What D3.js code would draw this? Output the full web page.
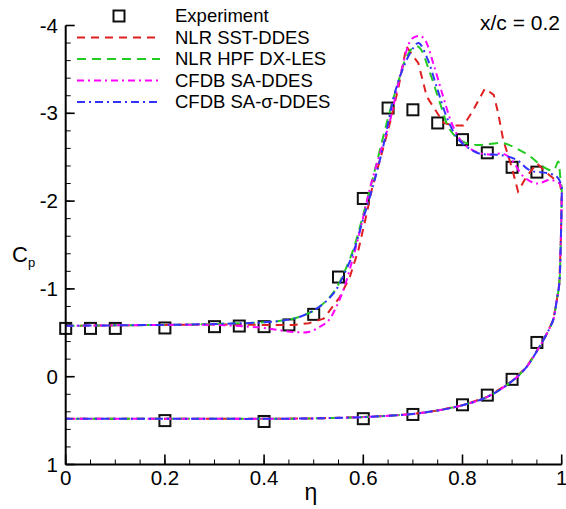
<!DOCTYPE html>
<html><head><meta charset="utf-8">
<script src="https://cdn.jsdelivr.net/npm/d3@7"></script>
<style>body{margin:0;background:#fff}svg{display:block;font-family:"Liberation Sans",Arial,Helvetica,sans-serif}</style>
</head><body>
<script>
// Experiment
const expUpperEta = [0, 0.05, 0.1, 0.2, 0.3, 0.35, 0.4, 0.45, 0.5, 0.55, 0.6, 0.65, 0.7, 0.75, 0.8, 0.85, 0.9, 0.95];
const expUpperCp  = [-0.55, -0.55, -0.55, -0.555, -0.57, -0.577, -0.57, -0.59, -0.71, -1.135, -2.03, -3.06, -3.04, -2.89, -2.70, -2.55, -2.385, -2.33];
const expLowerEta = [0.2, 0.4, 0.6, 0.7, 0.8, 0.85, 0.9, 0.95];
const expLowerCp  = [0.50, 0.51, 0.478, 0.43, 0.32, 0.21, 0.03, -0.39];

// NLR SST-DDES (upper surface)
const sstEta = [0, 0.1, 0.2, 0.3, 0.4, 0.46, 0.49, 0.52, 0.553, 0.573, 0.59, 0.607, 0.617, 0.64, 0.657, 0.671, 0.687, 0.711, 0.728, 0.745, 0.762, 0.782, 0.802, 0.822, 0.845, 0.863, 0.872, 0.882, 0.899, 0.912, 0.929, 0.95, 0.97, 0.996, 1.0];
const sstCp  = [-0.58, -0.585, -0.59, -0.595, -0.59, -0.59, -0.61, -0.66, -0.91, -1.14, -1.44, -1.86, -2.13, -2.6, -2.96, -3.30, -3.76, -3.57, -3.19, -3.04, -2.89, -2.86, -2.86, -3.04, -3.28, -3.21, -3.0, -2.70, -2.39, -2.11, -2.28, -2.43, -2.32, -2.20, -2.1];
// NLR HPF DX-LES (upper surface)
const hpfEta = [0, 0.1, 0.2, 0.3, 0.4, 0.45, 0.48, 0.51, 0.54, 0.56, 0.58, 0.6, 0.62, 0.65, 0.67, 0.687, 0.703, 0.713, 0.735, 0.755, 0.775, 0.8, 0.829, 0.855, 0.882, 0.909, 0.936, 0.963, 0.983, 0.993, 0.997, 1.0];
const hpfCp  = [-0.58, -0.585, -0.59, -0.6, -0.62, -0.65, -0.7, -0.79, -0.96, -1.17, -1.45, -1.85, -2.28, -2.95, -3.35, -3.64, -3.76, -3.75, -3.45, -3.11, -2.81, -2.68, -2.64, -2.65, -2.66, -2.60, -2.51, -2.39, -2.35, -2.45, -2.28, -2.15];
// CFDB SA-DDES (upper surface)
const saEta = [0, 0.1, 0.2, 0.3, 0.39, 0.43, 0.46, 0.49, 0.513, 0.53, 0.546, 0.56, 0.58, 0.597, 0.614, 0.634, 0.654, 0.677, 0.698, 0.714, 0.724, 0.741, 0.761, 0.781, 0.801, 0.828, 0.855, 0.882, 0.899, 0.923, 0.95, 0.976, 0.996, 1.0];
const saCp  = [-0.58, -0.585, -0.59, -0.59, -0.56, -0.53, -0.51, -0.51, -0.57, -0.64, -0.80, -0.99, -1.37, -1.75, -2.16, -2.55, -2.92, -3.49, -3.85, -3.88, -3.84, -3.57, -3.19, -2.85, -2.66, -2.56, -2.53, -2.54, -2.47, -2.28, -2.20, -2.24, -2.20, -2.1];
// CFDB SA-sigma-DDES (upper surface)
const sigEta = [0, 0.1, 0.2, 0.3, 0.4, 0.45, 0.48, 0.51, 0.54, 0.56, 0.58, 0.6, 0.62, 0.64, 0.667, 0.694, 0.711, 0.728, 0.748, 0.768, 0.788, 0.808, 0.835, 0.86, 0.882, 0.909, 0.936, 0.97, 0.99, 1.0];
const sigCp  = [-0.58, -0.585, -0.59, -0.6, -0.62, -0.65, -0.7, -0.79, -0.95, -1.15, -1.42, -1.8, -2.18, -2.62, -3.30, -3.68, -3.80, -3.64, -3.30, -2.96, -2.73, -2.62, -2.54, -2.53, -2.52, -2.47, -2.35, -2.32, -2.28, -2.16];
// Lower surface (common to all CFD results)
const lowerEta = [1.0, 0.998, 0.995, 0.99, 0.983, 0.97, 0.953, 0.929, 0.9, 0.85, 0.8, 0.75, 0.7, 0.65, 0.6, 0.5, 0.4, 0.3, 0.2, 0.1, 0];
const lowerCp  = [-2.05, -1.5, -1.05, -0.87, -0.65, -0.49, -0.32, -0.11, 0.05, 0.23, 0.325, 0.385, 0.425, 0.445, 0.46, 0.475, 0.48, 0.48, 0.48, 0.48, 0.48];

const seriesNames = ["NLR SST-DDES", "NLR HPF DX-LES", "CFDB SA-DDES", "CFDB SA-\u03c3-DDES"];
const xTicks = [0, 0.2, 0.4, 0.6, 0.8, 1];
const yTicks = [-4, -3, -2, -1, 0, 1];

const W = 566, H = 509;
const svg = d3.select("body").append("svg").attr("width", W).attr("height", H);
const x = d3.scaleLinear().domain([0, 1]).range([65.7, 561.7]);
const y = d3.scaleLinear().domain([-4, 1]).range([25.5, 464.5]);

const styles = [
  {color: "#e02020", dash: "8,6", curve: d3.curveLinear},
  {color: "#22cc22", dash: "9,6", curve: d3.curveCatmullRom.alpha(0.5)},
  {color: "#ff00ff", dash: "7,4,2,4", curve: d3.curveCatmullRom.alpha(0.5)},
  {color: "#3333ff", dash: "8,4,2,4", curve: d3.curveCatmullRom.alpha(0.5)}
];
const uppers = [[sstEta, sstCp], [hpfEta, hpfCp], [saEta, saCp], [sigEta, sigCp]];

// Experiment squares
const expPts = expUpperEta.map((e, i) => [e, expUpperCp[i]]).concat(expLowerEta.map((e, i) => [e, expLowerCp[i]]));
svg.append("g").selectAll("rect").data(expPts).enter().append("rect")
  .attr("x", d => x(d[0]) - 5.5).attr("y", d => y(d[1]) - 5.5)
  .attr("width", 11).attr("height", 11)
  .attr("fill", "none").attr("stroke", "#111").attr("stroke-width", 2);

// CFD curves
uppers.forEach((u, k) => {
  const pts = u[0].map((e, i) => [e, u[1][i]]).concat(lowerEta.map((e, i) => [e, lowerCp[i]]));
  const line = d3.line().x(d => x(d[0])).y(d => y(d[1])).curve(styles[k].curve);
  svg.append("path").attr("d", line(pts)).attr("fill", "none")
    .attr("stroke", styles[k].color).attr("stroke-width", 2)
    .attr("stroke-dasharray", styles[k].dash);
});

// Axes
const xMinor = d3.range(0, 1.0001, 0.05);
const yMinor = d3.range(-4, 1.0001, 0.2);
const ax = svg.append("g").attr("stroke", "#000");
ax.selectAll(".xm").data(xMinor).enter().append("line")
  .attr("x1", d => x(d)).attr("x2", d => x(d)).attr("y1", y(1)).attr("y2", y(1) - 5).attr("stroke-width", 1);
ax.selectAll(".xM").data(xTicks).enter().append("line")
  .attr("x1", d => x(d)).attr("x2", d => x(d)).attr("y1", y(1)).attr("y2", y(1) - 10).attr("stroke-width", 1.6);
ax.selectAll(".ym").data(yMinor).enter().append("line")
  .attr("y1", d => y(d)).attr("y2", d => y(d)).attr("x1", x(0)).attr("x2", x(0) + 5).attr("stroke-width", 1);
ax.selectAll(".yM").data(yTicks).enter().append("line")
  .attr("y1", d => y(d)).attr("y2", d => y(d)).attr("x1", x(0)).attr("x2", x(0) + 9).attr("stroke-width", 1.6);
ax.append("line").attr("x1", x(0)).attr("x2", x(0)).attr("y1", y(-4)).attr("y2", y(1)).attr("stroke-width", 2);
ax.append("line").attr("x1", x(0)).attr("x2", x(1)).attr("y1", y(1)).attr("y2", y(1)).attr("stroke-width", 2);

svg.append("g").selectAll("text").data(xTicks).enter().append("text")
  .attr("x", d => x(d)).attr("y", 485).attr("text-anchor", "middle")
  .attr("font-size", 20.5).text(d => String(d));
svg.append("g").selectAll("text").data(yTicks).enter().append("text")
  .attr("x", 58).attr("y", d => y(d) + 7).attr("text-anchor", "end")
  .attr("font-size", 20.5).text(d => String(d));

// Axis titles
svg.append("text").attr("x", 311).attr("y", 500).attr("text-anchor", "middle").attr("font-size", 23).text("\u03b7");
const yl = svg.append("text").attr("x", 12).attr("y", 262).attr("font-size", 22);
yl.append("tspan").text("C");
yl.append("tspan").attr("font-size", 13).attr("dy", 5).text("p");

// Annotation
svg.append("text").attr("x", 560).attr("y", 30).attr("text-anchor", "end").attr("font-size", 21).text("x/c = 0.2");

// Legend
const ly = [16, 37.5, 59, 80.5, 102];
const leg = svg.append("g");
leg.append("rect").attr("x", 119 - 5.5).attr("y", ly[0] - 5.5).attr("width", 11).attr("height", 11)
  .attr("fill", "none").attr("stroke", "#111").attr("stroke-width", 2);
leg.append("text").attr("x", 175).attr("y", ly[0] + 6).attr("font-size", 18.5).text("Experiment");
seriesNames.forEach((n, k) => {
  leg.append("line").attr("x1", 77).attr("x2", 160).attr("y1", ly[k + 1]).attr("y2", ly[k + 1])
    .attr("stroke", styles[k].color).attr("stroke-width", 2).attr("stroke-dasharray", styles[k].dash);
  leg.append("text").attr("x", 175).attr("y", ly[k + 1] + 6).attr("font-size", 18.5).text(n);
});
</script>
</body></html>
